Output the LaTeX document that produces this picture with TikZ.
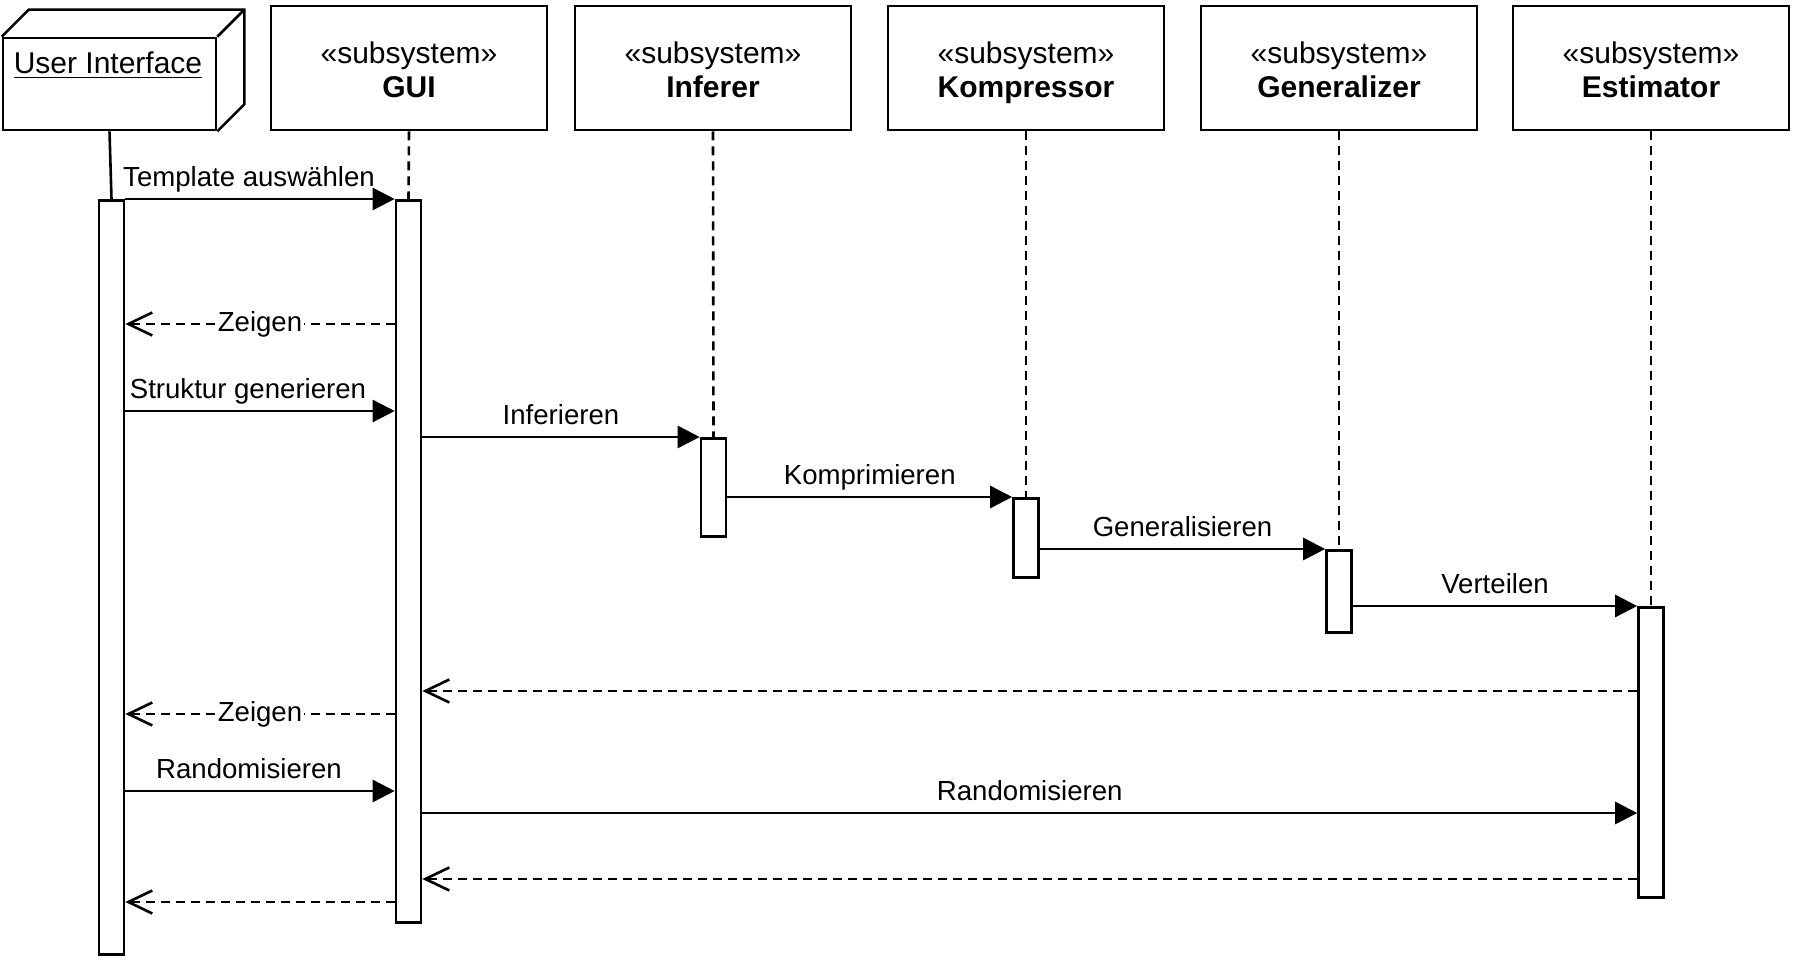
\documentclass[tikz,border=0pt]{standalone}
\usepackage{fontspec}
\setmainfont{Liberation Sans}
\usetikzlibrary{arrows.meta,positioning}
\newcommand{\subsys}[1]{\rule{0pt}{16.5pt}«subsystem»\\\textbf{#1}\rule[-3.5pt]{0pt}{3.5pt}}

\begin{document}
\begin{tikzpicture}[x=0.5pt,y=-0.5pt,line width=1.3pt,
   font=\fontsize{13.8}{16}\selectfont,
   sub/.style={draw,minimum width=138pt,minimum height=62pt,align=center,
               font=\fontsize{15}{17}\selectfont},
   act/.style={draw,fill=white,anchor=north,minimum width=12.5pt,inner sep=0pt},
   life/.style={dash pattern=on 4.5pt off 3pt},
   msg/.style={-{Triangle[length=11pt,width=11pt]}},
   ret/.style={dash pattern=on 4.5pt off 3pt,-{Straight Barb[length=12pt,width=11.5pt]}},
   lbl/.style={anchor=base,yshift=6pt,inner sep=0pt},
   onl/.style={fill=white,inner sep=1pt}]
  \useasboundingbox (0,0) rectangle (1794,961);
  \node[draw,minimum width=106.5pt,minimum height=46pt] (ui) at (109.5,84) {};
  \draw (ui.north west) -- ++(27,-27) -- ([shift={(27,-27)}]ui.north east)
        -- ([shift={(27,-27)}]ui.south east) -- (ui.south east);
  \draw (ui.north east) -- ++(27,-27);
  \node[anchor=base,font=\fontsize{15}{17}\selectfont] (uitxt) at (108,74)
       {\underline{User Interface}};
  \node[sub] (gui) at (409,68) {\subsys{GUI}};
  \node[sub] (inf) at (713,68) {\subsys{Inferer}};
  \node[sub] (komp) at (1026,68) {\subsys{Kompressor}};
  \node[sub] (gen) at (1339,68) {\subsys{Generalizer}};
  \node[sub] (est) at (1651,68) {\subsys{Estimator}};
  \node[act,minimum height=377pt] (uiact) at (111.5,199) {};
  \node[act,minimum height=361pt] (guiact) at (408.5,199) {};
  \node[act,minimum height=49pt] (infact) at (713.5,437) {};
  \node[act,minimum height=39.5pt] (kompact) at (1026,497) {};
  \node[act,minimum height=41pt] (genact) at (1339,549) {};
  \node[act,minimum height=145pt] (estact) at (1651,606) {};
  \draw (ui.south) -- (uiact.north);
  \draw[life] (gui.south) -- (guiact.north);
  \draw[life] (inf.south) -- (infact.north);
  \draw[life] (komp.south) -- (kompact.north);
  \draw[life] (gen.south) -- (genact.north);
  \draw[life] (est.south) -- (estact.north);
  \coordinate (zeig1) at (0,324);
  \coordinate (strukt) at (0,411);
  \coordinate (back1) at (0,691);
  \coordinate (zeig2) at (0,714);
  \coordinate (rand1) at (0,791);
  \coordinate (rand2) at (0,813);
  \coordinate (back2) at (0,879);
  \coordinate (back3) at (0,902);
  \draw[msg] (uiact.north east) -- node[lbl,xshift=-5.5pt]{Template auswählen} (guiact.north west);
  \draw[ret] (guiact.west |- zeig1) -- node[onl]{Zeigen} (uiact.east |- zeig1);
  \draw[msg] (uiact.east |- strukt) -- node[lbl,xshift=-6pt]{Struktur generieren} (guiact.west |- strukt);
  \draw[msg] (guiact.east |- infact.north) -- node[lbl]{Inferieren} (infact.north west);
  \draw[msg] (infact.east |- kompact.north) -- node[lbl]{Komprimieren} (kompact.north west);
  \draw[msg] (kompact.east |- genact.north) -- node[lbl]{Generalisieren} (genact.north west);
  \draw[msg] (genact.east |- estact.north) -- node[lbl]{Verteilen} (estact.north west);
  \draw[ret] (estact.west |- back1) -- (guiact.east |- back1);
  \draw[ret] (guiact.west |- zeig2) -- node[onl]{Zeigen} (uiact.east |- zeig2);
  \draw[msg] (uiact.east |- rand1) -- node[lbl,xshift=-5.5pt]{Randomisieren} (guiact.west |- rand1);
  \draw[msg] (guiact.east |- rand2) -- node[lbl]{Randomisieren} (estact.west |- rand2);
  \draw[ret] (estact.west |- back2) -- (guiact.east |- back2);
  \draw[ret] (guiact.west |- back3) -- (uiact.east |- back3);
\end{tikzpicture}
\end{document}
